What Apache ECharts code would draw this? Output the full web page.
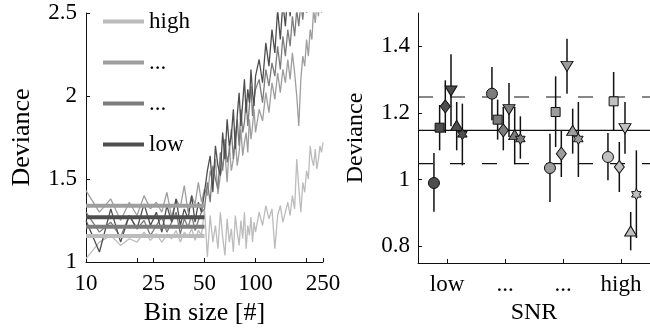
<!DOCTYPE html>
<html><head><meta charset="utf-8">
<script src="https://cdn.jsdelivr.net/npm/echarts@6/dist/echarts.min.js"></script>
<style>html,body{margin:0;padding:0;background:#fff}#c{width:650px;height:331px}</style>
</head><body><div id="c"></div>
<script>
// ---------- left panel data ----------
const binSizes = [10,12,14,16,18,20,22,24,26,28,30,32,34,36,38,40,42,44,46,48,50,
  52,54,56,58,60,62,64,66,68,70,72,74,76,78,80,82,84,86,88,90,92,94,96,98,100,
  105,110,115,120,125,130,135,140,145,150,155,160,165,170,175,180,185,190,195,200,205,210,215,220,225,230,235,240,245,250];
const devHigh = [1.02,1.12,1.16,1.10,1.14,1.12,1.18,1.13,1.17,1.12,1.16,1.14,1.19,1.12,1.18,1.15,1.20,1.13,1.19,1.16,1.32,
  1.03,1.28,1.12,1.22,1.08,1.30,1.15,1.04,1.26,1.12,1.20,1.06,1.28,1.18,1.10,1.25,1.14,1.30,1.08,1.22,1.16,1.27,1.12,1.24,1.18,
  1.30,1.22,1.34,1.26,1.32,1.08,1.28,1.34,1.24,1.30,1.36,1.28,1.40,1.32,1.62,1.45,1.30,1.48,1.42,1.55,1.50,1.70,1.62,1.58,1.68,1.56,1.62,1.70,1.66,1.72];
const devMidHigh = [1.43,1.30,1.38,1.25,1.36,1.28,1.40,1.32,1.36,1.30,1.42,1.27,1.38,1.33,1.46,1.30,1.40,1.35,1.48,1.36,1.44,
  1.40,1.55,1.47,1.62,1.41,1.52,1.58,1.66,1.48,1.70,1.55,1.62,1.74,1.58,1.66,1.80,1.64,1.72,1.78,1.66,1.86,1.74,1.82,1.92,1.78,
  1.92,1.85,2.02,1.90,2.08,1.98,2.14,2.02,2.16,2.08,2.22,2.10,2.26,2.14,2.00,1.82,2.10,2.24,2.18,2.34,2.24,2.40,2.34,2.52,2.44,2.56,2.48,2.60,2.50,2.58];
const devMidLow = [1.30,1.18,1.24,1.15,1.28,1.20,1.25,1.16,1.22,1.27,1.18,1.24,1.30,1.17,1.26,1.21,1.28,1.19,1.25,1.30,1.32,
  1.48,1.36,1.58,1.50,1.44,1.66,1.55,1.74,1.60,1.66,1.80,1.62,1.76,1.86,1.70,1.92,1.78,1.84,1.98,1.82,1.94,2.06,1.88,1.98,2.04,
  2.10,1.96,2.16,2.06,2.20,2.12,2.30,2.16,2.36,2.24,2.40,2.30,2.48,2.36,2.52,2.42,2.56,2.46,2.60,2.50,2.62,2.55,2.64,2.58,2.66,2.60,2.70,2.62,2.68,2.72];
const devLow = [1.25,1.06,1.32,1.12,1.28,1.20,1.35,1.22,1.30,1.18,1.34,1.24,1.38,1.22,1.32,1.26,1.40,1.24,1.36,1.30,1.42,
  1.55,1.64,1.42,1.70,1.58,1.52,1.78,1.62,1.86,1.70,1.76,1.92,1.68,1.88,2.02,1.82,1.96,2.10,1.90,2.04,1.96,2.16,2.02,1.94,2.12,
  2.22,2.08,2.32,2.18,2.40,2.26,2.52,2.34,2.56,2.42,2.62,2.48,2.66,2.52,2.70,2.58,2.72,2.62,2.75,2.66,2.78,2.70,2.80,2.72,2.82,2.76,2.85,2.78,2.88,2.80];
const meanLevels = [1.157, 1.339, 1.213, 1.269];   // high, ..., ..., low (bins 10-50)
const meanRange = [10, 50];
const legendLabels = ['high', '...', '...', 'low'];
const binTickLabels = [10, 25, 50, 100, 250];
const binTicks = [10, 20, 25, 50, 100, 200, 250];
const devTicksLeft = [1, 1.5, 2, 2.5];

// ---------- right panel data ----------
const snrLabels = ['low', '...', '...', 'high'];
const circleMean = [0.99, 1.258, 1.035, 1.068], circleLow = [0.904, 1.178, 0.933, 0.998], circleHigh = [1.08, 1.338, 1.138, 1.14];
const squareMean = [1.156, 1.18, 1.203, 1.235], squareLow = [1.088, 1.12, 1.098, 1.148], squareHigh = [1.224, 1.24, 1.31, 1.323];
const diamondMean = [1.22, 1.148, 1.078, 1.038], diamondLow = [1.14, 1.088, 1.008, 0.963], diamondHigh = [1.298, 1.218, 1.148, 1.113];
const triDownMean = [1.266, 1.21, 1.34, 1.153], triDownLow = [1.16, 1.128, 1.258, 1.078], triDownHigh = [1.376, 1.29, 1.423, 1.233];
const triUpMean = [1.163, 1.135, 1.148, 0.846], triUpLow = [1.088, 1.046, 1.078, 0.788], triUpHigh = [1.233, 1.218, 1.213, 0.903];
const hexMean = [1.136, 1.122, 1.122, 0.956], hexLow = [1.043, 1.063, 1.008, 0.825], hexHigh = [1.228, 1.19, 1.233, 1.088];
const refLevels = [1.048, 1.148, 1.248];
const devTicksRight = [0.8, 1, 1.2, 1.4];

// ---------- styling ----------
const FONT = 'Liberation Serif, serif';
const lineColors = ['#bcbcbc', '#9e9e9e', '#7c7c7c', '#4e4e4e'];
const groupColors = ['#4d4d4d', '#7c7c7c', '#9c9c9c', '#c0c0c0'];
const seriesKeys = ['high', 'midHigh', 'midLow', 'low'];
const noisy = [devHigh, devMidHigh, devMidLow, devLow];
const hexPath = 'path://M0,-10L2.887,-5L8.66,-5L5.774,0L8.66,5L2.887,5L0,10L-2.887,5L-8.66,5L-5.774,0L-8.66,-5L-2.887,-5Z';
const markers = [
  {mean: circleMean, lo: circleLow, hi: circleHigh, symbol: 'circle', size: 11, rot: 0},
  {mean: squareMean, lo: squareLow, hi: squareHigh, symbol: 'rect', size: 9, rot: 0},
  {mean: diamondMean, lo: diamondLow, hi: diamondHigh, symbol: 'diamond', size: [10, 13], rot: 0},
  {mean: triDownMean, lo: triDownLow, hi: triDownHigh, symbol: 'triangle', size: [12, 10], rot: 180},
  {mean: triUpMean, lo: triUpLow, hi: triUpHigh, symbol: 'triangle', size: [12, 10], rot: 0},
  {mean: hexMean, lo: hexLow, hi: hexHigh, symbol: hexPath, size: 11, rot: 0}
];
const offsets = [-0.225, -0.127, -0.029, 0.069, 0.167, 0.265];

const series = [];
noisy.forEach((arr, i) => {
  series.push({
    name: seriesKeys[i], type: 'line', xAxisIndex: 0, yAxisIndex: 0,
    data: binSizes.map((b, j) => [b, arr[j]]),
    showSymbol: false, symbol: 'none', clip: true, color: lineColors[i],
    lineStyle: {width: 1.3, color: lineColors[i]}, z: 2 + i, silent: true
  });
});
meanLevels.forEach((v, i) => {
  series.push({
    type: 'line', xAxisIndex: 0, yAxisIndex: 0,
    data: meanRange.map(b => [b, v]), showSymbol: false, symbol: 'none',
    lineStyle: {width: 4, color: lineColors[i]}, z: 10, silent: true
  });
});
refLevels.forEach((v, i) => {
  series.push({
    type: 'line', xAxisIndex: 1, yAxisIndex: 1,
    data: [[0.5, v], [4.5, v]], showSymbol: false, symbol: 'none',
    lineStyle: {width: 1.2, color: '#111', type: i === 1 ? 'solid' : [15, 17]}, z: 1, silent: true
  });
});
const errData = [];
markers.forEach((m, k) => m.mean.forEach((v, g) => errData.push([g + 1 + offsets[k], m.lo[g], m.hi[g]])));
series.push({
  type: 'custom', xAxisIndex: 1, yAxisIndex: 1, data: errData, z: 3, silent: true,
  encode: {x: 0, y: [1, 2]},
  renderItem: (params, api) => {
    const p1 = api.coord([api.value(0), api.value(1)]);
    const p2 = api.coord([api.value(0), api.value(2)]);
    return {type: 'line', shape: {x1: p1[0], y1: p1[1], x2: p2[0], y2: p2[1]}, style: {stroke: '#111', lineWidth: 1.5}};
  }
});
markers.forEach((m, k) => {
  series.push({
    type: 'scatter', xAxisIndex: 1, yAxisIndex: 1, symbol: m.symbol, symbolSize: m.size,
    symbolRotate: m.rot, symbolKeepAspect: true, z: 5, silent: true,
    data: m.mean.map((v, g) => ({value: [g + 1 + offsets[k], v], itemStyle: {color: groupColors[g]}})),
    itemStyle: {borderColor: '#111', borderWidth: 1, opacity: 1}
  });
});

const lbl = (extra) => Object.assign({fontSize: 23, fontFamily: FONT, fontWeight: 'normal', color: '#000'}, extra);
const axisLineStyle = {show: true, lineStyle: {color: '#111', width: 1}};
const option = {
  animation: false,
  backgroundColor: '#fff',
  textStyle: {fontFamily: FONT, color: '#000'},
  grid: [
    {left: 86, right: 327, top: 13, bottom: 69},
    {left: 418, right: -8, top: 13, bottom: 68}
  ],
  legend: {
    data: seriesKeys, orient: 'vertical', left: 98, top: 5,
    icon: 'rect', itemWidth: 41, itemHeight: 4, itemGap: 18,
    formatter: name => legendLabels[seriesKeys.indexOf(name)],
    textStyle: {fontFamily: FONT, fontSize: 23, lineHeight: 23, color: '#000'},
    selectedMode: false
  },
  xAxis: [
    {
      type: 'log', logBase: 10, min: 10, max: 250, gridIndex: 0,
      axisLine: axisLineStyle,
      axisTick: {show: true, inside: true, length: 4, customValues: binTicks, lineStyle: {color: '#111'}},
      axisLabel: lbl({customValues: binTickLabels, margin: 10}),
      splitLine: {show: false}, minorTick: {show: false},
      name: 'Bin size [#]', nameLocation: 'middle', nameGap: 34,
      nameTextStyle: {fontSize: 26, fontFamily: FONT, color: '#000'}
    },
    {
      type: 'value', min: 0.5, max: 4.5, gridIndex: 1,
      axisLine: axisLineStyle,
      axisTick: {show: true, inside: true, length: 4, customValues: [1, 2, 3, 4], lineStyle: {color: '#111'}},
      axisLabel: lbl({customValues: [1, 2, 3, 4], formatter: v => snrLabels[Math.round(v) - 1], margin: 10}),
      splitLine: {show: false},
      name: 'SNR', nameLocation: 'middle', nameGap: 36,
      nameTextStyle: {fontSize: 24, fontFamily: FONT, color: '#000'}
    }
  ],
  yAxis: [
    {
      type: 'value', min: 1, max: 2.5, interval: 0.5, gridIndex: 0,
      axisLine: axisLineStyle,
      axisTick: {show: true, inside: true, length: 4, lineStyle: {color: '#111'}},
      axisLabel: lbl({customValues: devTicksLeft, margin: 9}),
      splitLine: {show: false},
      name: 'Deviance', nameLocation: 'middle', nameGap: 51,
      nameTextStyle: {fontSize: 26, fontFamily: FONT, color: '#000'}
    },
    {
      type: 'value', min: 0.75, max: 1.5, gridIndex: 1,
      axisLine: axisLineStyle,
      axisTick: {show: true, inside: true, length: 4, customValues: devTicksRight, lineStyle: {color: '#111'}},
      axisLabel: lbl({customValues: devTicksRight, formatter: v => (v === 1 ? '1' : v.toFixed(1)), margin: 8}),
      splitLine: {show: false},
      name: 'Deviance', nameLocation: 'middle', nameGap: 50,
      nameTextStyle: {fontSize: 24, fontFamily: FONT, color: '#000'}
    }
  ],
  series: series
};
const chart = echarts.init(document.getElementById('c'), null, {renderer: 'canvas'});
chart.setOption(option);
</script>
</body></html>
